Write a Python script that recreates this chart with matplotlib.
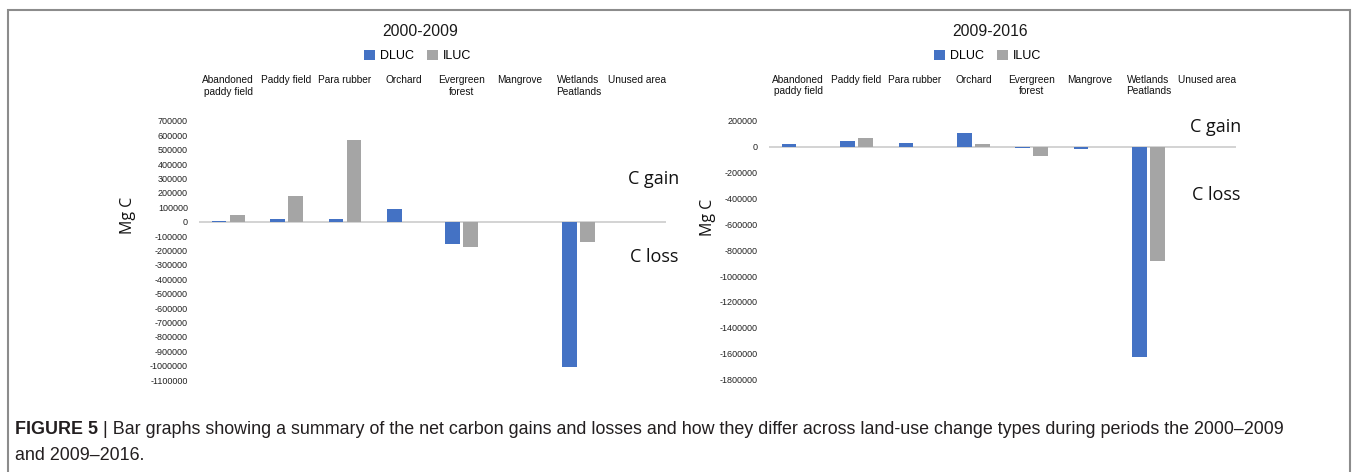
import matplotlib
matplotlib.use("Agg")
import matplotlib.pyplot as plt
from matplotlib.patches import Patch, Rectangle
import numpy as np

# Net carbon change (Mg C) per land-use change type
categories = [
    "Abandoned\npaddy field", "Paddy field", "Para rubber", "Orchard",
    "Evergreen\nforest", "Mangrove", "Wetlands\nPeatlands", "Unused area",
]
dluc_2000_2009 = [8000, 17000, 19000, 86000, -155000, 0, -1012000, 0]
iluc_2000_2009 = [44000, 181000, 568000, 0, -178000, 0, -141000, 0]
dluc_2009_2016 = [18000, 41000, 28000, 108000, -12000, -18000, -1625000, 0]
iluc_2009_2016 = [0, 67000, 0, 23000, -72000, 0, -888000, 0]

yticks_2000_2009 = list(range(-1100000, 700001, 100000))
yticks_2009_2016 = list(range(-1800000, 200001, 200000))

BLUE = "#4472C4"
GREY = "#A5A5A5"
W, H = 1356, 472

fig = plt.figure(figsize=(W / 100, H / 100), dpi=100)
fig.patch.set_facecolor("white")


def px(x, y):
    return x / W, 1 - y / H


def draw_panel(rect, dluc, iluc, yticks, title, title_x, legend_x, ylabel_x,
               ylabel_y, gain_xy, loss_xy):
    ax = fig.add_axes(rect)
    x = np.arange(len(categories))
    ax.axhline(0, color="#D0D0D0", linewidth=1.3, zorder=1)
    ax.bar(x - 0.155, dluc, 0.25, color=BLUE, zorder=2)
    ax.bar(x + 0.155, iluc, 0.25, color=GREY, zorder=2)
    ax.set_xlim(-0.5, len(categories) - 0.5)
    ax.set_ylim(yticks[0], yticks[-1])

    ax.set_yticks(yticks)
    ax.set_yticklabels([str(v) for v in yticks], fontsize=6.5,
                       family="Liberation Sans", color="#222222")
    ax.tick_params(axis="y", length=0, pad=8)

    ax.xaxis.tick_top()
    ax.set_xticks(x)
    ax.set_xticklabels(categories, fontsize=7.3, family="Liberation Sans",
                       va="top", color="#111111", linespacing=1.2)
    ax.tick_params(axis="x", length=0, pad=33)
    for s in ax.spines.values():
        s.set_visible(False)

    tx, ty = px(title_x, 32)
    fig.text(tx, ty, title, ha="center", va="center", fontsize=11.3,
             family="Liberation Sans", color="#1a1a1a")
    handles = [Patch(facecolor=BLUE, label="DLUC"),
               Patch(facecolor=GREY, label="ILUC")]
    lx, ly = px(legend_x, 56)
    fig.legend(handles=handles, loc="center", bbox_to_anchor=(lx, ly), ncol=2,
               frameon=False, prop={"family": "Liberation Sans", "size": 9},
               handlelength=0.9, handleheight=0.9, handletextpad=0.4,
               columnspacing=1.0, borderpad=0)

    yx, yy = px(ylabel_x, ylabel_y)
    fig.text(yx, yy, "Mg C", rotation=90, ha="center", va="center",
             fontsize=11.5, family="Open Sans", color="#111111")
    gx, gy = px(*gain_xy)
    fig.text(gx, gy, "C gain", ha="center", va="center", fontsize=13,
             family="Open Sans", color="#111111")
    cx, cy = px(*loss_xy)
    fig.text(cx, cy, "C loss", ha="center", va="center", fontsize=13,
             family="Open Sans", color="#111111")
    return ax


draw_panel([199 / W, 1 - 380 / H, 467 / W, 259 / H],
           dluc_2000_2009, iluc_2000_2009, yticks_2000_2009, "2000-2009",
           420.5, 417.5, 128, 215, (654, 179), (654, 257))
draw_panel([769 / W, 1 - 379.6 / H, 467 / W, 259 / H],
           dluc_2009_2016, iluc_2009_2016, yticks_2009_2016, "2009-2016",
           990.5, 987.5, 708, 217, (1216, 127), (1216, 195))

# outer frame, open at the bottom
fig.add_artist(Rectangle((8 / W, -0.02), (1350 - 8) / W, (H - 10) / H + 0.02,
                         transform=fig.transFigure, fill=False,
                         edgecolor="#8c8c8c", linewidth=1.5))

# caption
cap_kw = dict(fontsize=12.85, family="Liberation Sans", color="#231f20",
              va="center")
x0, y0 = px(15, 430)
bold = fig.text(x0, y0, "FIGURE 5 ", fontweight="bold", **cap_kw)
fig.canvas.draw()
bb = bold.get_window_extent(fig.canvas.get_renderer())
fig.text(bb.x1 / W, y0,
         "| Bar graphs showing a summary of the net carbon gains and losses "
         "and how they differ across land-use change types during periods "
         "the 2000\u20132009", **cap_kw)
fig.text(x0, px(15, 455)[1], "and 2009\u20132016.", **cap_kw)

fig.savefig("out.png", dpi=100, facecolor="white")
